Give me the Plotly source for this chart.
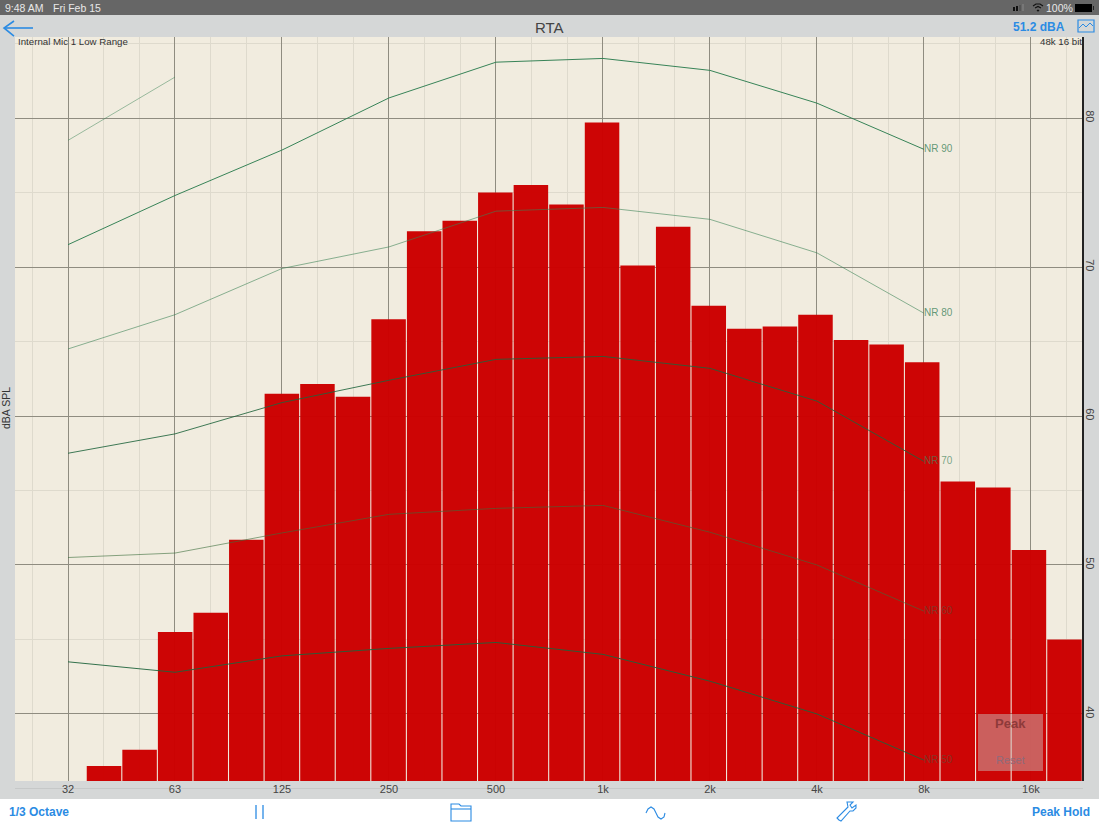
import plotly.graph_objects as go

# 1/3-octave band data (dBA SPL)
BAND_LABELS = ["40", "50", "63", "80", "100", "125", "160", "200", "250", "315", "400", "500", "630", "800",
               "1k", "1.25k", "1.6k", "2k", "2.5k", "3.15k", "4k", "5k", "6.3k", "8k", "10k", "12.5k", "16k", "20k"]
BAND_INDEX = list(range(1, 29))
BAND_LEVELS = [36.5, 37.6, 45.5, 46.8, 51.7, 61.5, 62.15, 61.3, 66.5, 72.4, 73.1, 75.0, 75.5, 74.2,
               79.7, 70.1, 72.7, 67.4, 65.85, 66.0, 66.8, 65.1, 64.8, 63.6, 55.6, 55.2, 51.0, 45.0]

OCTAVE_LABELS = ["32", "63", "125", "250", "500", "1k", "2k", "4k", "8k", "16k"]
OCTAVE_INDEX = [0, 3, 6, 9, 12, 15, 18, 21, 24, 27]
MINOR_INDEX = [-1, 1, 2, 4, 5, 7, 8, 10, 11, 13, 14, 16, 17, 19, 20, 22, 23, 25, 26, 28]

NR_X = [0, 3, 6, 9, 12, 15, 18, 21, 24]
NR100 = [78.5, 82.75]
NR90 = [71.5, 74.8, 77.85, 81.35, 83.75, 84.0, 83.2, 81.0, 77.9]
NR80 = [64.5, 66.8, 69.9, 71.35, 73.75, 74.0, 73.2, 70.95, 66.9]
NR70 = [57.5, 58.8, 60.9, 62.4, 63.8, 64.0, 63.2, 61.0, 56.95]
NR60 = [50.5, 50.8, 52.15, 53.4, 53.8, 54.0, 52.2, 50.0, 46.9]
NR50 = [43.5, 42.8, 43.9, 44.4, 44.8, 44.0, 42.2, 40.0, 36.9]

W, H = 1099, 824
L, R, T, B = 15, 1083, 37, 781
FONT = "Liberation Sans"
BLUE = "#2b8be3"


def px(x):
    return (x - L) / (R - L)


def py(y):
    return (B - y) / (B - T)


def rect(x0, y0, x1, y1, fill, layer="below", line=None, opacity=1):
    return dict(type="rect", xref="paper", yref="paper", x0=px(x0), x1=px(x1), y0=py(y0), y1=py(y1),
                fillcolor=fill, line=dict(width=0) if line is None else line, layer=layer, opacity=opacity)


def path(points, color=BLUE, width=1.2, fill=None, close=False):
    d = "M" + " L".join(f"{px(a):.5f},{py(b):.5f}" for a, b in points) + (" Z" if close else "")
    return dict(type="path", xref="paper", yref="paper", path=d, line=dict(color=color, width=width),
                fillcolor=fill, layer="above")


def label(x, y, text, size=11, color="#444444", anchor="left", bold=False, angle=0):
    return dict(xref="paper", yref="paper", x=px(x), y=py(y), text=f"<b>{text}</b>" if bold else text,
                showarrow=False, xanchor=anchor, yanchor="middle", textangle=angle,
                font=dict(family=FONT, size=size, color=color), borderpad=0, borderwidth=0)


fig = go.Figure()
fig.add_trace(go.Bar(x=BAND_INDEX, y=BAND_LEVELS, marker=dict(color="#cc0000", line=dict(width=0), opacity=0.98),
                     name="RTA", hoverinfo="x+y", xaxis="x", yaxis="y"))

nr_series = [
    (NR100, "", "rgba(60,130,85,0.55)", 0.9, "#4f8f66"),
    (NR90, "NR 90", "rgba(45,125,80,0.95)", 1.0, "rgba(60,130,90,0.8)"),
    (NR80, "NR 80", "rgba(60,130,85,0.65)", 0.9, "rgba(60,130,90,0.8)"),
    (NR70, "NR 70", "rgba(30,100,60,0.85)", 1.0, "rgba(70,130,90,0.7)"),
    (NR60, "NR 60", "rgba(60,110,60,0.6)", 1.0, "rgba(60,100,70,0.5)"),
    (NR50, "NR 50", "rgba(30,100,60,0.9)", 1.0, "rgba(60,100,70,0.5)"),
]
for vals, name, color, width, tcolor in nr_series:
    xs = NR_X[:len(vals)]
    txt = [""] * (len(vals) - 1) + [name]
    fig.add_trace(go.Scatter(x=xs, y=vals, mode="lines+text", text=txt, textposition="middle right",
                             textfont=dict(family=FONT, size=10, color=tcolor), xaxis="x2", yaxis="y",
                             line=dict(color=color, width=width), name=name or "NR 100", hoverinfo="skip"))

shapes = [
    rect(0, 0, W, 15, "#666666"),
    rect(0, 799, W, H, "#ffffff"),
    rect(15, 788, 1083, 789, "#c6c8c8"),
    rect(978, 714, 1043, 771, "rgba(200,195,190,0.48)", layer="above"),
    rect(1082, 37, 1084, 781, "#222222", layer="above"),
    # back arrow
    path([(4, 28), (33, 28)], width=1.6),
    path([(14, 21), (4, 28), (14, 36)], width=1.6),
    # graph icon
    rect(1078, 20, 1094, 32, "rgba(0,0,0,0)", layer="above", line=dict(color=BLUE, width=1.2)),
    path([(1079, 28), (1083, 24), (1086, 27), (1090, 23), (1093, 26)], width=1),
    # pause
    path([(256, 805), (256, 819)], width=1.3),
    path([(263, 805), (263, 819)], width=1.3),
    # folder
    path([(451, 821), (451, 804), (459, 804), (461, 806), (471, 806), (471, 821)], width=1.1, close=True),
    path([(451, 809), (471, 809)], width=1.1),
    # sine
    path([(646, 813), (648, 809), (651, 807), (654, 809), (656, 813), (658, 817), (661, 819), (664, 817), (665, 813)], width=1.1),
    # wrench
    path([(839, 820), (837, 818), (848, 807), (847, 802), (851, 802), (853, 802), (850, 805), (852, 808), (856, 805),
          (856, 808), (853, 811), (850, 811), (841, 821)], width=1.1, close=True),
    # status icons: signal, battery
    rect(1013, 7, 1015, 11, "#111111", layer="above"),
    rect(1016, 6, 1018, 11, "#111111", layer="above"),
    rect(1019, 5, 1021, 11, "#555555", layer="above"),
    rect(1022, 4, 1024, 11, "#777777", layer="above"),
    rect(1075, 4, 1092, 12, "#000000", layer="above"),
    rect(1093, 6, 1094, 10, "#222222", layer="above"),
    path([(1033, 6), (1036, 4), (1040, 4), (1043, 6)], color="#111111", width=1.2),
    path([(1035, 8), (1038, 6.5), (1041, 8)], color="#111111", width=1.2),
    path([(1037, 10), (1038, 11), (1039, 10)], color="#111111", width=1.2),
]

annotations = [
    label(5, 8, "9:48 AM", 10.5, "#e8e8e8"),
    label(53, 8, "Fri Feb 15", 10.5, "#e8e8e8"),
    label(1046, 8, "100%", 10.5, "#e8e8e8"),
    label(549, 27, "RTA", 15, "#444444", anchor="center"),
    label(1065, 27, "51.2 dBA", 12, BLUE, anchor="right", bold=True),
    label(18, 42, "Internal Mic 1 Low Range", 9.7, "#333333"),
    label(1082, 42, "48k 16 bit", 9.7, "#333333", anchor="right"),
    label(6, 408, "dBA SPL", 10.5, "#333333", anchor="center", angle=-90),
    label(9, 812, "1/3 Octave", 12, BLUE, bold=True),
    label(1090, 812, "Peak Hold", 12, BLUE, anchor="right", bold=True),
    label(1010, 723, "Peak", 13, "#8e3a3a", anchor="center", bold=True),
    label(1010, 760, "Reset", 11, "#8f6a7a", anchor="center"),
]

fig.update_layout(
    width=W, height=H, autosize=False,
    margin=dict(l=L, r=W - R, t=T, b=H - B, pad=0, autoexpand=False),
    paper_bgcolor="#d5d7d7", plot_bgcolor="#f1ecdf",
    showlegend=False, bargap=0.03,
    shapes=shapes, annotations=annotations,
    font=dict(family=FONT, size=11, color="#444444"),
    # the bars sit on a very slightly narrower pitch than the octave grid
    xaxis=dict(range=[-1.502, 28.52], visible=False, showgrid=False, automargin=False, zeroline=False),
    xaxis2=dict(range=[-1.486, 28.46], overlaying="x", anchor="y", side="bottom",
                tickmode="array", tickvals=OCTAVE_INDEX, ticktext=OCTAVE_LABELS,
                automargin=False, showgrid=True, gridcolor="#8f8c80", gridwidth=1, ticklen=0, zeroline=False, showline=False,
                tickfont=dict(family=FONT, size=11, color="#444444"),
                minor=dict(tickmode="array", tickvals=MINOR_INDEX, showgrid=True, gridcolor="#dedacd", gridwidth=1, ticklen=0)),
    yaxis=dict(range=[35.5, 85.44], side="right", tickmode="array", tickvals=[40, 50, 60, 70, 80],
               ticktext=["40", "50", "60", "70", "80"], tickangle=90, ticklen=0, showgrid=True, automargin=False,
               gridcolor="#8f8c80", gridwidth=1, zeroline=False, showline=False,
               tickfont=dict(family=FONT, size=11, color="#444444"),
               minor=dict(tickmode="array", tickvals=[45, 55, 65, 75, 85], showgrid=True, gridcolor="#dedacd", gridwidth=1, ticklen=0)),
)

fig.write_html("out.html", config=dict(displayModeBar=False),
               post_script="document.body.style.margin='0';document.body.style.overflow='hidden';")
